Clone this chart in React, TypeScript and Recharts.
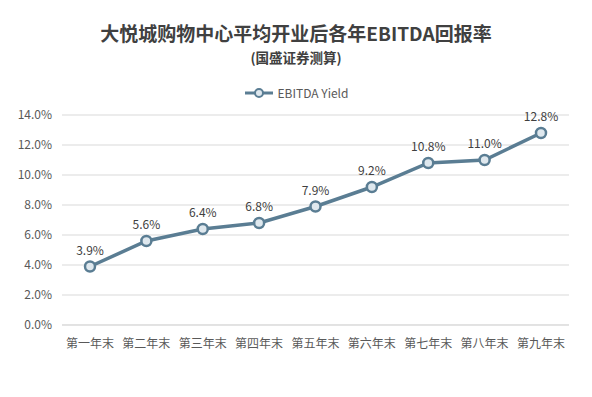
import { LineChart, Line, XAxis, YAxis, CartesianGrid, LabelList } from 'recharts';

const years = ['第一年末', '第二年末', '第三年末', '第四年末', '第五年末', '第六年末', '第七年末', '第八年末', '第九年末'];
const yieldValues = [3.9, 5.6, 6.4, 6.8, 7.9, 9.2, 10.8, 11.0, 12.8];
const yTicks = [0, 2, 4, 6, 8, 10, 12, 14];

const data = years.map((name, i) => ({ name, value: yieldValues[i] }));

const FONT = '"Noto Sans CJK SC", "Noto Sans", sans-serif';
const LINE = '#5a7d93';

function LegendBox() {
  return (
    <div style={{ position: 'absolute', top: 85, left: 0, width: 592, display: 'flex', justifyContent: 'center', alignItems: 'center', fontSize: 12, color: '#595959', lineHeight: '16px' }}>
      <svg width={30} height={12} style={{ marginRight: 4 }}>
        <line x1={1} y1={6} x2={29} y2={6} stroke={LINE} strokeWidth={3} />
        <circle cx={15} cy={6} r={4} fill="#dfe8ee" stroke={LINE} strokeWidth={2} />
      </svg>
      <span>EBITDA Yield</span>
    </div>
  );
}

function App() {
  return (
    <div style={{ position: 'absolute', left: 0, top: 0, width: 592, height: 397, background: '#fff', fontFamily: FONT }}>
      <div style={{ position: 'absolute', top: 19, width: 592, textAlign: 'center', fontSize: 19, lineHeight: 'normal', fontWeight: 'bold', color: '#404040' }}>
        大悦城购物中心平均开业后各年EBITDA回报率
      </div>
      <div style={{ position: 'absolute', top: 47, width: 592, textAlign: 'center', fontSize: 13.5, lineHeight: 'normal', fontWeight: 'bold', color: '#404040' }}>
        (国盛证券测算)
      </div>
      <LegendBox />
      <div style={{ position: 'absolute', left: 0, top: 0 }}>
        <LineChart width={592} height={397} data={data} margin={{ top: 115, right: 23, left: 0, bottom: 42 }}>
          <CartesianGrid vertical={false} stroke="#d9d9d9" />
          <XAxis
            dataKey="name"
            tickLine={false}
            axisLine={{ stroke: '#d9d9d9' }}
            tick={{ fontSize: 12, fill: '#595959', fontFamily: FONT }}
            interval={0}
            tickMargin={8}
            padding={{ left: 28, right: 28 }}
          />
          <YAxis
            width={62}
            domain={[0, 14]}
            ticks={yTicks}
            tickFormatter={(v: number) => `${v.toFixed(1)}%`}
            tickLine={false}
            axisLine={false}
            tick={{ fontSize: 12, fill: '#595959', fontFamily: FONT }}
            tickMargin={4}
          />
          <Line
            type="linear"
            dataKey="value"
            stroke={LINE}
            strokeWidth={3.5}
            dot={{ r: 5, fill: '#dfe8ee', stroke: LINE, strokeWidth: 2.5 }}
            isAnimationActive={false}
          >
            <LabelList
              dataKey="value"
              position="top"
              offset={12}
              formatter={(v: number) => `${v.toFixed(1)}%`}
              style={{ fontSize: 12, fill: '#404040', fontFamily: FONT }}
            />
          </Line>
        </LineChart>
      </div>
    </div>
  );
}

export default App;
